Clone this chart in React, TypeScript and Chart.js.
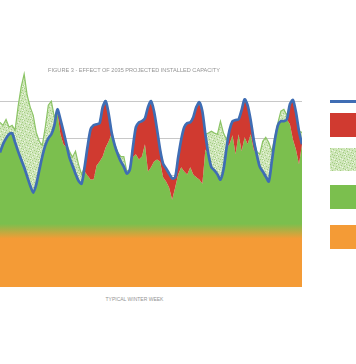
import React, { useEffect, useRef } from "react";
import { Chart, registerables } from "chart.js";

Chart.register(...registerables);

const TITLE = "FIGURE 3 - EFFECT OF 2035 PROJECTED INSTALLED CAPACITY";
const X_LABEL = "TYPICAL WINTER WEEK";

// Demand (blue line), sampled evenly over the week
const DEMAND = [
  3.62, 3.84, 4.0, 4.11, 4.14, 3.89, 3.65, 3.43, 3.22, 2.97, 2.73, 2.54, 2.76, 3.14, 3.51, 3.81, 4.0,
  4.11, 4.35, 4.78, 4.51, 4.19, 3.84, 3.49, 3.27, 3.05, 2.86, 2.78, 3.22, 3.78, 4.24, 4.35, 4.38, 4.41,
  4.84, 5.0, 4.65, 4.14, 3.81, 3.57, 3.38, 3.24, 3.05, 3.16, 3.76, 4.3, 4.43, 4.46, 4.54, 4.84, 5.0,
  4.73, 4.24, 3.7, 3.32, 3.19, 3.05, 2.92, 2.95, 3.49, 3.97, 4.3, 4.41, 4.43, 4.57, 4.84, 4.97, 4.73,
  4.11, 3.57, 3.22, 3.14, 3.03, 2.89, 3.16, 3.73, 4.22, 4.46, 4.49, 4.51, 4.76, 5.05, 4.89, 4.49, 3.97,
  3.57, 3.24, 3.11, 2.97, 2.84, 3.38, 3.95, 4.35, 4.46, 4.46, 4.51, 4.92, 5.03, 4.7, 4.19, 3.84,
];

// Projected generation (green top)
const GENERATION = [
  4.43, 4.35, 4.51, 4.3, 4.35, 4.22, 4.86, 5.38, 5.73, 5.16, 4.84, 4.62, 4.16, 3.92, 3.81, 4.3, 4.89,
  5.0, 4.57, 4.7, 4.11, 3.84, 3.76, 3.65, 3.49, 3.65, 3.3, 3.03, 3.11, 3.0, 2.89, 2.89, 3.27, 3.38,
  3.51, 3.76, 3.92, 4.16, 3.84, 3.62, 3.51, 3.51, 3.11, 3.16, 3.49, 3.57, 3.43, 3.51, 3.84, 3.11, 3.22,
  3.38, 3.43, 3.38, 2.95, 2.84, 2.68, 2.35, 2.68, 3.03, 3.22, 3.11, 3.03, 3.22, 3.03, 2.95, 2.89, 2.78,
  3.7, 4.14, 4.19, 4.14, 4.11, 4.46, 4.14, 3.97, 3.84, 4.08, 3.57, 4.11, 3.65, 4.03, 3.84, 4.11, 3.7,
  3.65, 3.57, 3.92, 4.03, 3.89, 3.65, 4.03, 4.41, 4.73, 4.78, 4.62, 4.38, 3.97, 3.7, 3.3, 4.16,
];

const BASELOAD_LEVEL = 1.5;
const HOURS = DEMAND.map((_, i) => ((i * 168) / (DEMAND.length - 1)).toFixed(1));
const Y_TICKS = [1, 2, 3, 4, 5];
const Y_MAX = 6;

const BLUE = "#3f6db4";
const RED = "#d03a30";
const GREEN = "#7bbf4e";
const ORANGE = "#f49b36";
const MID = "#b8ad42";
const EXCESS_EDGE = "#8cc466";

function makePattern(): HTMLCanvasElement {
  const c = document.createElement("canvas");
  c.width = 8;
  c.height = 8;
  const g = c.getContext("2d")!;
  g.fillStyle = "#cfe6b9";
  g.fillRect(0, 0, 8, 8);
  g.fillStyle = "#a3cd83";
  [[0, 0], [3, 1], [6, 2], [1, 3], [5, 4], [2, 6], [7, 5], [4, 7], [6, 7]].forEach(([x, y]) =>
    g.fillRect(x, y, 1, 1)
  );
  g.fillStyle = "#eef6e6";
  [[2, 2], [6, 6], [0, 5], [4, 3], [7, 0]].forEach(([x, y]) => g.fillRect(x, y, 1, 1));
  return c;
}

function vGrad(lo: number, loColor: string, hi: number, hiColor: string) {
  return (ctx: any) => {
    const chart = ctx.chart;
    const area = chart.chartArea;
    if (!area) return loColor;
    const y = chart.scales.y;
    const g = chart.ctx.createLinearGradient(0, y.getPixelForValue(lo), 0, y.getPixelForValue(hi));
    g.addColorStop(0, loColor);
    g.addColorStop(1, hiColor);
    return g;
  };
}

export default function App() {
  const ref = useRef<HTMLCanvasElement>(null);
  const legendRef = useRef<HTMLDivElement>(null);

  useEffect(() => {
    const patternCanvas = makePattern();
    const ctx2d = ref.current!.getContext("2d")!;
    const pattern = ctx2d.createPattern(patternCanvas, "repeat")!;
    if (legendRef.current) {
      legendRef.current.style.backgroundImage = `url(${patternCanvas.toDataURL()})`;
    }
    const solid = GENERATION.map((g, i) => Math.min(g, DEMAND[i]));
    const excess = GENERATION.map((g, i) => Math.max(g, DEMAND[i]));
    const base = DEMAND.map(() => BASELOAD_LEVEL);

    const chart = new Chart(ref.current!, {
      type: "line",
      data: {
        labels: HOURS,
        datasets: [
          {
            label: "Demand",
            data: DEMAND,
            borderColor: BLUE,
            borderWidth: 2.7,
            fill: false,
            pointRadius: 0,
            tension: 0.25,
            order: 0,
          },
          {
            label: "Excess",
            data: excess,
            borderColor: EXCESS_EDGE,
            borderWidth: 1.2,
            backgroundColor: pattern,
            fill: 2,
            pointRadius: 0,
            tension: 0,
            order: 1,
          },
          {
            label: "Shortfall",
            data: DEMAND,
            borderWidth: 0,
            borderColor: "rgba(0,0,0,0)",
            backgroundColor: RED,
            fill: 3,
            pointRadius: 0,
            tension: 0,
            order: 2,
          },
          {
            label: "Renewables",
            data: solid,
            borderWidth: 0,
            borderColor: "rgba(0,0,0,0)",
            backgroundColor: vGrad(1.3, ORANGE, 1.7, GREEN),
            fill: "origin",
            pointRadius: 0,
            tension: 0,
            order: 4,
          },
          {
            label: "Baseload",
            data: base,
            borderWidth: 0,
            borderColor: "rgba(0,0,0,0)",
            backgroundColor: vGrad(1.3, ORANGE, 1.5, MID),
            fill: "origin",
            pointRadius: 0,
            tension: 0,
            order: 3,
          },
        ],
      },
      options: {
        animation: false,
        responsive: true,
        maintainAspectRatio: false,
        layout: { padding: 0 },
        plugins: {
          legend: { display: false },
          tooltip: { enabled: false },
          title: { display: false },
        },
        scales: {
          x: { display: false, offset: false },
          y: {
            min: 0,
            max: Y_MAX,
            afterBuildTicks: (s: any) => {
              s.ticks = Y_TICKS.map((v) => ({ value: v }));
            },
            ticks: { display: false },
            grid: { color: "#c8c8c8", drawTicks: false, lineWidth: 1 },
            border: { display: false },
          },
        },
      },
    });
    return () => chart.destroy();
  }, []);

  const font = '"Liberation Sans", Arial, sans-serif';
  const box = (top: number, h: number, bg: string, extra: any = {}) => ({
    position: "absolute" as const,
    left: 330,
    top,
    width: 26,
    height: h,
    background: bg,
    ...extra,
  });

  return (
    <div style={{ position: "absolute", left: 0, top: 0, width: 356, height: 364, background: "#fff", overflow: "hidden" }}>
      <div style={{ position: "absolute", left: 0, top: 64, width: 302, height: 223 }}>
        <canvas ref={ref} />
      </div>
      <div
        style={{
          position: "absolute",
          left: 0,
          width: 268,
          top: 66,
          textAlign: "center",
          fontFamily: font,
          fontSize: 5.6,
          lineHeight: "8px",
          color: "#949494",
          whiteSpace: "nowrap",
        }}
      >
        {TITLE}
      </div>
      <div
        style={{
          position: "absolute",
          left: 0,
          width: 269,
          top: 296,
          textAlign: "center",
          fontFamily: font,
          fontSize: 5,
          lineHeight: "7px",
          color: "#949494",
          whiteSpace: "nowrap",
        }}
      >
        {X_LABEL}
      </div>
      <div style={box(100, 3, BLUE)} />
      <div style={box(113, 24, RED)} />
      <div ref={legendRef} style={box(148, 23, "#cfe6b9")} />
      <div style={box(185, 24, GREEN)} />
      <div style={box(225, 24, ORANGE)} />
    </div>
  );
}
